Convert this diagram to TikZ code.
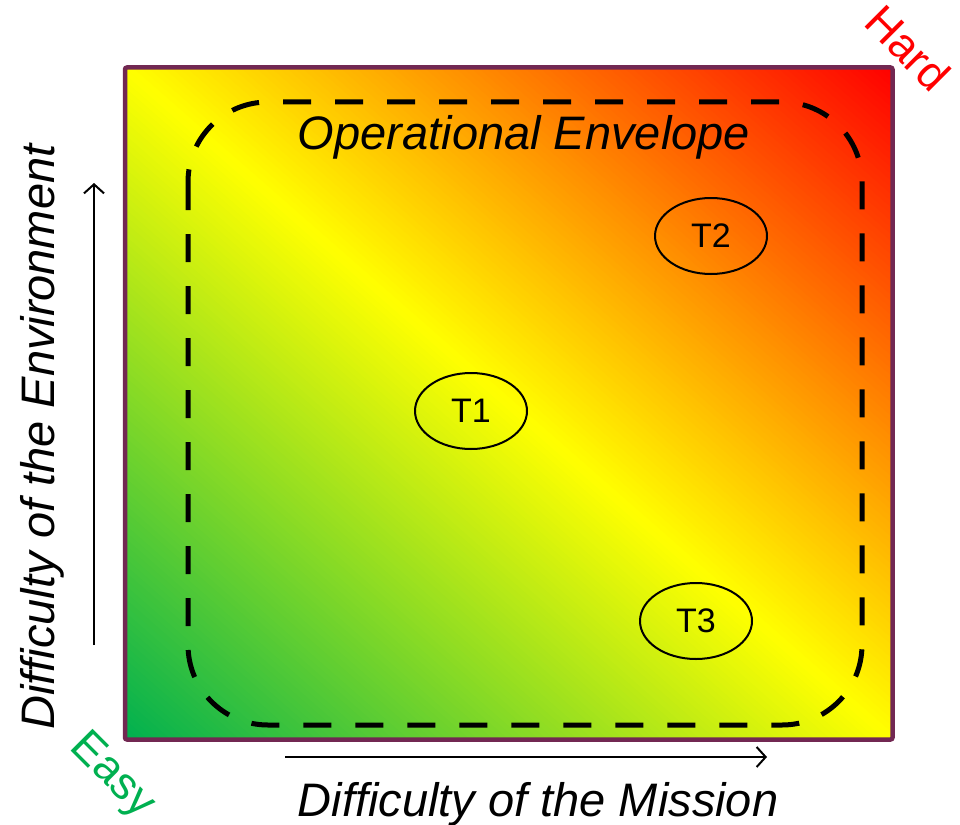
\documentclass[tikz,border=0pt]{standalone}
\usepackage{fontspec}
\setmainfont{Liberation Sans}
\usetikzlibrary{shapes.geometric,arrows.meta}
\definecolor{framecol}{RGB}{114,40,82}
\definecolor{easygreen}{RGB}{0,176,80}
\definecolor{midyellow}{RGB}{255,255,0}
\definecolor{hardred}{RGB}{255,0,0}
\begin{document}
\begin{tikzpicture}[x=1pt,y=-1pt,line width=2pt,
  every node/.style={inner sep=0pt},
  bigtext/.style={font=\fontsize{47}{50}\selectfont\itshape},
  cornertext/.style={font=\fontsize{45}{47}\selectfont,rotate=-45},
  target/.style={draw,ellipse,minimum width=112pt,minimum height=76pt,font=\fontsize{34}{36}\selectfont},
  axisarrow/.style={-{Straight Barb[length=9pt,width=20pt]}}]
  \path[use as bounding box] (0,0) rectangle (960,824);
  \coordinate (SW) at (125,739.5);
  \coordinate (NE) at (892.5,67.5);
  % diagonal green-yellow-red bands
  \begin{scope}[shift={(SW)},x={(767.5pt,0pt)},y={(0pt,672pt)}]
    \clip (0,0) rectangle (1,1);
    \foreach \i in {0,...,199}{
      \pgfmathsetmacro\sa{\i/100}
      \pgfmathsetmacro\sb{(\i+1.5)/100}
      \ifnum\i<100 \pgfmathsetmacro\pc{\i+0.5}\colorlet{bandcol}{midyellow!\pc!easygreen}%
      \else \pgfmathsetmacro\pc{\i-99.5}\colorlet{bandcol}{hardred!\pc!midyellow}\fi
      \fill[bandcol] (\sa,0)--(\sb,0)--(0,\sb)--(0,\sa)--cycle;
    }
  \end{scope}
  \draw[framecol,line width=4.5pt,rounded corners=2pt] (SW) rectangle (NE);
  % envelope
  \draw[line width=5pt,dash pattern=on 28pt off 24pt,rounded corners=80pt] (188,102) rectangle (862,725);
  \node[bigtext,anchor=base] (env) at (524,149) {Operational Envelope};
  \node[target] (T1) at (471,411) {T1};
  \node[target] (T2) at (711,236) {T2};
  \node[target] (T3) at (696,621) {T3};
  % axes
  \coordinate (V0) at (94,645);
  \coordinate (V1) at (94,183);
  \coordinate (H0) at (285,757);
  \coordinate (H1) at (767,757);
  \draw[axisarrow] (V0)--(V1);
  \draw[axisarrow] (H0)--(H1);
  \node[bigtext,rotate=90] (yl) at (42,437) {Difficulty of the Environment};
  \node[bigtext,anchor=base] (xl) at (538,816) {Difficulty of the Mission};
  \node[cornertext,text=hardred] (hard) at (908,48) {Hard};
  \node[cornertext,text=easygreen] (easy) at (112,776) {Easy};
\end{tikzpicture}
\end{document}
